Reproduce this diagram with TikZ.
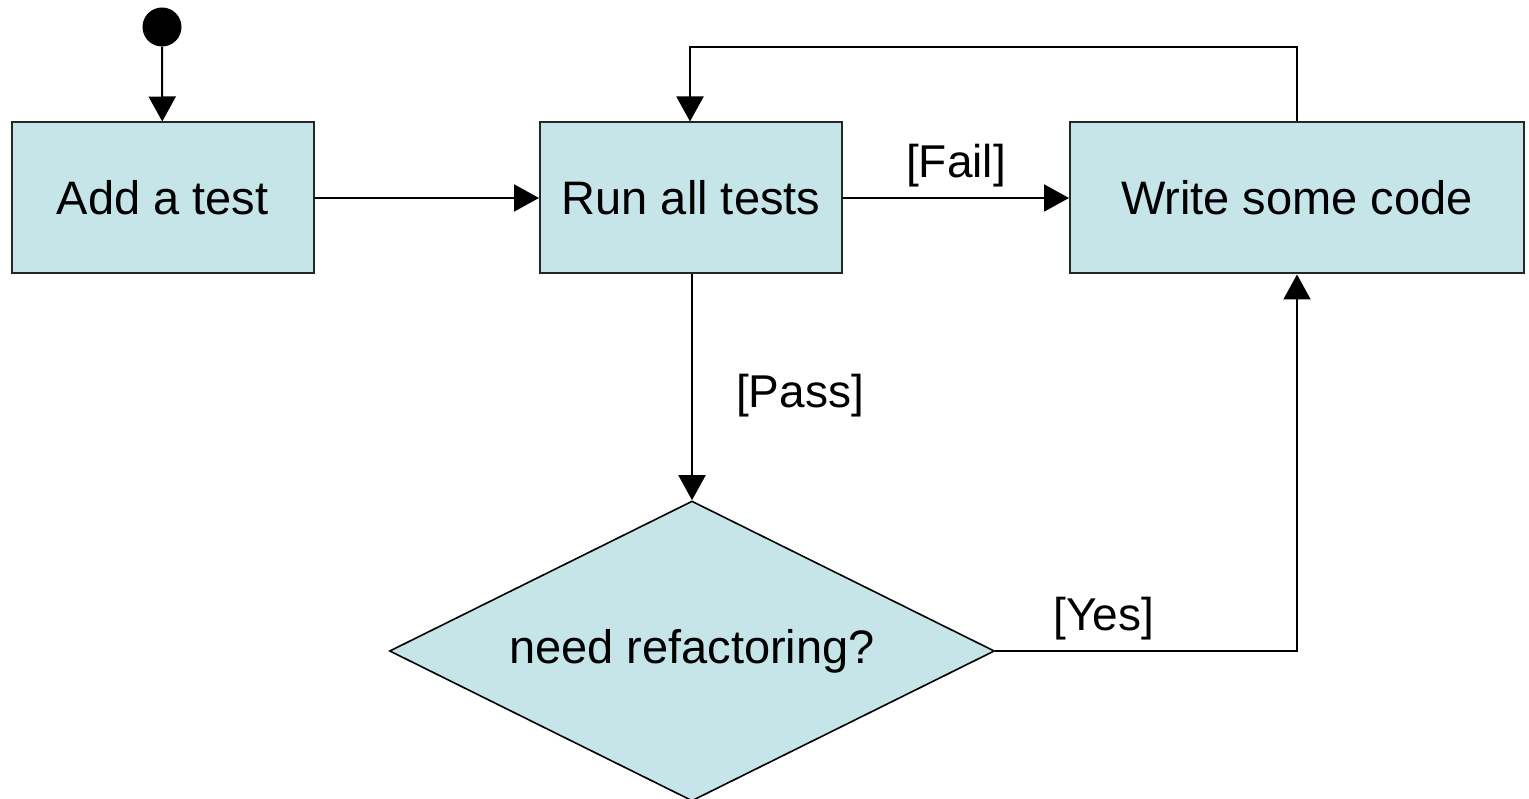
\documentclass[tikz,border=0pt]{standalone}
\usepackage{fontspec}
\setmainfont{Liberation Sans}
\usetikzlibrary{arrows.meta,shapes.geometric}
\definecolor{boxfill}{RGB}{197,229,233}
\tikzset{
  every picture/.style={x=1pt,y=-1pt},
  activity/.style={draw=black!85,line width=2pt,fill=boxfill,minimum width=302pt,minimum height=151pt,inner sep=0pt,font=\fontsize{47}{50}\selectfont},
  decision/.style={diamond,aspect=2,draw=black,line width=1.6pt,fill=boxfill,minimum width=605pt,minimum height=300pt,inner sep=0pt,font=\fontsize{47}{50}\selectfont},
  startdot/.style={circle,fill=black,minimum size=39pt,inner sep=0pt},
  flow/.style={line width=2pt,-{Triangle[length=25pt,width=27pt]}},
  guard/.style={font=\fontsize{46}{50}\selectfont,inner sep=0pt}
}
\begin{document}
\begin{tikzpicture}
\useasboundingbox (0,0) rectangle (1529,799);
\node[startdot] (start) at (162,27) {};
\node[activity] (add) at (162.5,198) {Add a test};
\node[activity] (run) at (691,198) {Run all tests};
\node[activity,minimum width=454pt] (write) at (1297,198) {Write some code};
\node[decision] (refactor) at (692,651) {need refactoring?};
\coordinate (topR) at (1297,47);
\coordinate (topL) at (690,47);
\coordinate (yesCorner) at (1297,651);

\draw[flow] (start) -- (add);
\draw[flow] (add) -- (run);
\draw[flow] (run) -- node[guard,above=10pt] {[Fail]} (write);
\draw[flow] (run.south -| refactor.north) -- node[guard,right=43pt,yshift=-8pt] {[Pass]} (refactor.north);
\draw[flow] (refactor.east) -- node[guard,above=10pt,pos=0.36] {[Yes]} (yesCorner) -- (write.south);
\draw[flow] (write.north) -- (topR) -- (topL) -- (run.north -| topL);
\end{tikzpicture}
\end{document}
